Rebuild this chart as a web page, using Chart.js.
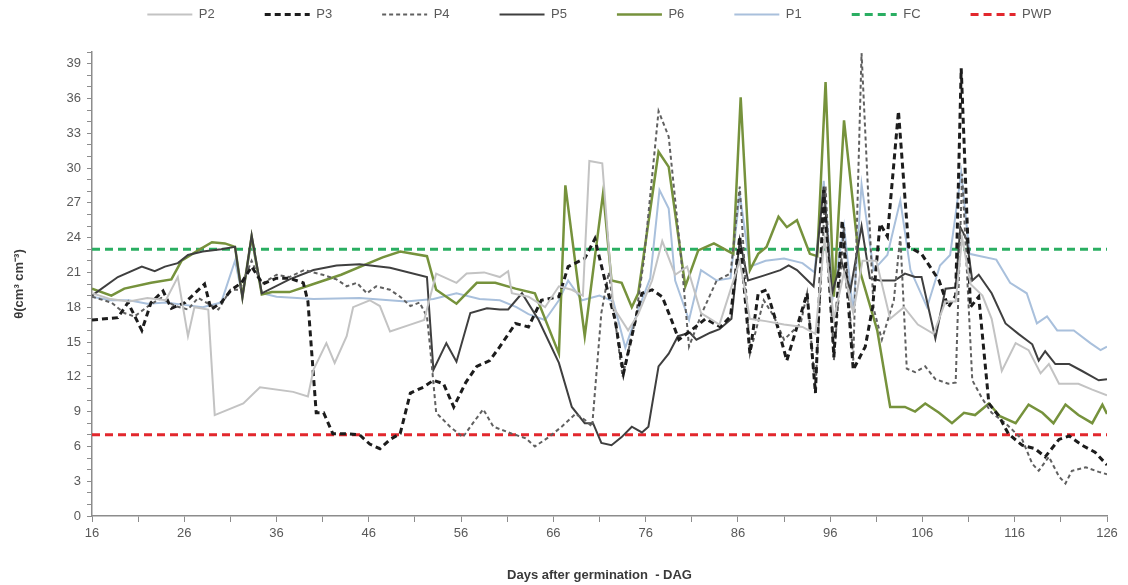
<!DOCTYPE html>
<html>
<head>
<meta charset="utf-8">
<script src="https://cdn.jsdelivr.net/npm/chart.js@4/dist/chart.umd.min.js"></script>
<style>
  html, body { margin: 0; padding: 0; background: #fff; }
  #wrap { width: 1128px; height: 585px; }
</style>
</head>
<body>
<div id="wrap"><canvas id="chart"></canvas></div>
<script>
// tick labels
var xLabels = [16, 26, 36, 46, 56, 66, 76, 86, 96, 106, 116, 126];
var yLabels = [0, 3, 6, 9, 12, 15, 18, 21, 24, 27, 30, 33, 36, 39];

// P2
var p2Days = [16, 18, 20, 22, 24, 25.3, 26.4, 27.1, 28.6, 29.3, 32.4, 34.2, 37.8, 39.4, 40, 41.4, 42.3, 43.6, 44.3, 46.1, 47.2, 48.3, 50.5, 52, 53.3, 55.5, 56.6, 58.5, 60.2, 61.1, 61.5, 63.3, 65.1, 66.6, 68, 69.2, 69.9, 71.3, 72.5, 74.1, 75.2, 76.7, 77.8, 79.2, 80.5, 82, 84, 86.2, 87.3, 89, 91, 93, 94.4, 95.4, 96.4, 97.5, 98.5, 99.5, 101, 102.5, 104, 105.5, 107.2, 108.5, 109.6, 110.3, 111.2, 112.5, 113.5, 114.6, 116.1, 117.5, 118.8, 119.7, 120.8, 122.9, 124.4, 126];
var p2Vals = [19.2, 18.7, 18.5, 18.8, 18.6, 20.6, 15.5, 18.0, 17.8, 8.7, 9.7, 11.1, 10.7, 10.3, 12.6, 14.9, 13.2, 15.5, 18.0, 18.6, 18.1, 15.9, 16.5, 16.9, 20.9, 20.1, 20.9, 21.0, 20.6, 21.1, 19.2, 18.9, 18.0, 19.8, 19.5, 19.0, 30.6, 30.4, 18.0, 16.0, 17.4, 20.3, 23.7, 20.8, 21.5, 17.5, 16.5, 22.0, 17.0, 16.8, 16.5, 16.3, 15.7, 24.0, 17.0, 21.0, 17.5, 22.0, 22.0, 17.0, 18.0, 16.5, 15.7, 18.5, 18.5, 24.0, 20.0, 19.0, 17.0, 12.5, 14.9, 14.3, 12.3, 13.1, 11.4, 11.4, 10.9, 10.4];

// P3
var p3Days = [16, 18.8, 19.9, 21.4, 22.4, 23.7, 24.6, 26.1, 28.2, 28.9, 30, 31.1, 32.2, 33.3, 34.5, 36, 37.4, 38.9, 39.4, 40.3, 41.1, 42.1, 43.6, 45, 46.1, 47.2, 48.3, 49.4, 50.5, 51.9, 53, 54.1, 55.2, 56.5, 57.7, 59.1, 60.2, 61.9, 63.3, 64.7, 66.6, 67.6, 69.4, 70.5, 71.6, 72.7, 73.6, 74.9, 75.6, 76.7, 77.8, 78.8, 79.6, 81.4, 82.5, 84.1, 85.2, 86.2, 87.3, 88.2, 89.1, 90.2, 91.3, 92.4, 93.5, 94.4, 95.3, 96.4, 97.3, 98.5, 99.8, 100.6, 101.4, 102.2, 103.4, 104.5, 105.9, 107.8, 108.8, 109.6, 110.2, 111.2, 112.1, 113.2, 114.3, 115.3, 116.8, 118.2, 119.3, 120.8, 121.9, 123.3, 124.7, 126];
var p3Vals = [16.9, 17.1, 18.4, 16.0, 18.4, 19.4, 17.9, 18.4, 20.0, 17.8, 18.4, 19.5, 20.1, 21.5, 20.0, 20.5, 20.5, 20.1, 18.5, 8.9, 8.9, 7.1, 7.1, 7.0, 6.2, 5.8, 6.6, 7.1, 10.6, 11.1, 11.7, 11.4, 9.4, 11.5, 12.9, 13.4, 14.6, 16.6, 16.3, 18.6, 18.9, 21.5, 22.2, 23.9, 20.3, 16.9, 12.3, 16.9, 19.2, 19.5, 18.9, 16.9, 15.2, 16.3, 17.0, 16.3, 17.2, 24.1, 14.0, 19.2, 19.5, 16.6, 13.4, 16.3, 19.2, 10.6, 28.1, 13.7, 25.5, 12.6, 14.6, 18.0, 25.2, 24.1, 34.9, 23.2, 22.6, 20.3, 18.0, 19.0, 38.6, 18.0, 18.9, 9.7, 8.6, 7.1, 6.1, 5.8, 5.1, 6.6, 6.9, 6.1, 5.5, 4.4];

// P4
var p4Days = [16, 18.1, 19.5, 20.6, 22.1, 23.5, 25, 26.4, 27.5, 29.7, 31, 32, 33.3, 34.4, 36, 37.4, 39, 41, 42.5, 43.6, 44.7, 45.8, 46.8, 48.3, 49.4, 50.5, 51.5, 52.3, 52.6, 53.3, 54.8, 56.2, 57, 58.4, 59.5, 61.5, 63, 64, 65.5, 66.9, 68.4, 69.4, 70.2, 71.2, 72, 73.5, 74.9, 75.8, 77.4, 78.5, 79.9, 80.7, 82.1, 83.7, 85.2, 86.2, 87.3, 88.8, 89.9, 91, 92.8, 93.5, 94.4, 95.5, 96.4, 97.5, 98.5, 99.4, 100.7, 101.6, 102.9, 103.6, 104.3, 105.2, 106.3, 107.4, 108.8, 109.6, 110.3, 111.4, 112.5, 113.5, 115, 116.8, 117.9, 118.6, 119.7, 120.8, 121.5, 122.2, 123.7, 125.1, 126];
var p4Vals = [18.9, 18.4, 17.5, 17.2, 18.1, 18.8, 18.1, 17.8, 18.8, 17.8, 19.5, 19.5, 22.0, 20.0, 20.8, 20.6, 21.2, 20.8, 20.4, 19.8, 20.1, 19.2, 19.8, 19.5, 18.9, 18.1, 18.4, 17.2, 14.9, 8.9, 7.7, 6.8, 7.7, 9.2, 7.7, 7.1, 6.7, 6.0, 6.8, 7.7, 8.8, 8.3, 7.7, 17.5, 21.0, 12.0, 17.0, 22.0, 34.9, 32.7, 21.8, 14.6, 17.5, 20.3, 20.9, 28.4, 14.0, 18.6, 17.2, 15.2, 16.6, 19.2, 10.9, 28.4, 13.4, 24.9, 13.4, 39.9, 17.9, 15.2, 18.6, 24.1, 12.7, 12.4, 12.9, 11.8, 11.4, 11.5, 29.5, 11.7, 10.1, 8.9, 8.0, 6.6, 4.5, 3.9, 5.1, 3.4, 2.8, 3.9, 4.2, 3.8, 3.6];

// P5
var p5Days = [16, 18.8, 21.4, 22.8, 23.9, 25.3, 26.4, 28, 30, 31.5, 32.3, 33.3, 34.4, 37.4, 40, 42.5, 45, 48.3, 52.3, 53, 54.4, 55.5, 57, 58.8, 60.2, 61.1, 62.6, 64.4, 66.6, 68, 69.4, 70.3, 71.2, 72.3, 73.4, 74.5, 75.6, 76.3, 77.4, 78.5, 79.5, 80.8, 81.5, 83, 84, 85.3, 86.2, 87.1, 88.7, 90.6, 91.5, 92.4, 94.2, 95.3, 96.2, 97.2, 98.2, 99.4, 100.3, 101.4, 103, 104.1, 105.2, 105.9, 107.4, 108.5, 109.6, 110.1, 110.8, 111.4, 112.1, 113.5, 115, 116.4, 117.9, 118.6, 119.3, 120.4, 121.9, 123.3, 125.1, 126];
var p5Vals = [19.0, 20.6, 21.5, 21.1, 21.5, 21.8, 22.5, 22.8, 23.0, 23.2, 18.8, 24.2, 19.2, 20.4, 21.2, 21.6, 21.7, 21.4, 20.6, 12.6, 14.9, 13.3, 17.5, 17.9, 17.8, 17.8, 19.2, 16.9, 13.2, 9.4, 8.0, 8.0, 6.3, 6.1, 6.8, 7.7, 7.2, 7.7, 12.9, 14.0, 15.5, 15.8, 15.2, 15.8, 16.1, 17.0, 23.8, 20.3, 20.7, 21.2, 21.6, 21.2, 19.8, 28.4, 19.2, 22.0, 19.5, 25.0, 20.5, 20.3, 20.3, 20.9, 20.6, 20.6, 15.3, 19.6, 19.7, 24.9, 23.8, 20.3, 20.8, 19.2, 16.6, 15.7, 14.8, 13.4, 14.2, 13.1, 13.1, 12.5, 11.7, 11.8];

// P6
var p6Days = [16, 18.1, 19.5, 22.4, 24.6, 25.7, 27.5, 29, 30.4, 31.5, 32.3, 33.3, 34.4, 35.5, 37.4, 40, 43, 46, 47.5, 49.4, 52.3, 53.3, 55.5, 57.7, 59.7, 61.9, 64, 66.6, 67.3, 69.4, 71.4, 72.3, 73.4, 74.5, 75.2, 77.4, 78.5, 80.3, 81.7, 83.4, 85.5, 86.3, 87.3, 88.2, 89.1, 90.4, 91.3, 92.4, 93.8, 94.6, 95.5, 96.4, 97.5, 99.3, 101.1, 102.5, 104.1, 105.2, 106.3, 107.8, 109.2, 110.5, 111.7, 113.2, 114.4, 116.1, 117.5, 119, 120.2, 121.5, 122.9, 124.4, 125.5, 126];
var p6Vals = [19.6, 19.0, 19.6, 20.1, 20.4, 22.0, 22.9, 23.6, 23.5, 23.2, 18.9, 24.1, 19.1, 19.3, 19.3, 20.0, 20.8, 21.8, 22.3, 22.8, 22.4, 19.5, 18.3, 20.1, 20.1, 19.6, 19.2, 14.0, 28.5, 15.5, 27.9, 20.3, 20.1, 18.0, 19.2, 31.4, 30.1, 19.8, 22.9, 23.5, 22.6, 36.1, 21.2, 22.6, 23.2, 25.8, 24.9, 25.5, 22.6, 22.4, 37.4, 18.9, 34.1, 20.9, 16.0, 9.4, 9.4, 9.0, 9.7, 8.9, 8.0, 8.9, 8.7, 9.7, 8.6, 8.0, 9.6, 8.9, 8.0, 9.6, 8.7, 8.0, 9.6, 8.8];

// P1
var p1Days = [16, 18, 20, 22, 24, 26, 28, 30, 31.5, 32.3, 33.3, 34.4, 36, 40, 45, 50, 53, 55.5, 58, 60.2, 62, 63.3, 65.1, 66.6, 67.6, 69.1, 71, 72.5, 73.8, 75.3, 76.5, 77.5, 78.5, 79.2, 80.7, 82, 83.7, 85.2, 86.2, 87.3, 89, 91, 93, 94.3, 95.3, 96.3, 97.5, 98.5, 99.4, 100.7, 102.2, 103.6, 104.7, 106.5, 107.9, 109, 110.2, 111.1, 112.3, 114, 115.5, 117.3, 118.4, 119.5, 120.6, 122.4, 124.2, 125.3, 126];
var p1Vals = [18.9, 18.6, 18.6, 18.3, 18.4, 18.2, 18.0, 18.4, 22.0, 19.0, 23.8, 19.2, 18.9, 18.7, 18.8, 18.5, 18.7, 19.2, 18.7, 18.6, 18.0, 17.4, 16.9, 18.6, 20.3, 18.6, 19.0, 18.5, 14.5, 18.0, 20.5, 28.1, 26.5, 20.3, 16.9, 21.2, 20.3, 20.5, 27.8, 21.5, 22.0, 22.2, 21.8, 21.0, 28.9, 19.0, 25.0, 17.5, 28.6, 21.2, 22.5, 27.2, 21.2, 18.0, 21.6, 22.5, 29.6, 22.6, 22.4, 22.1, 20.1, 19.2, 16.6, 17.2, 16.0, 16.0, 14.9, 14.3, 14.6];

// reference levels
var levelDays = [16, 126];
var fcVals = [23, 23];
var pwpVals = [7, 7];

function pts(days, vals) {
  return days.map(function (d, i) { return { x: d, y: vals[i] }; });
}

var series = [
  { label: 'P2', days: p2Days, vals: p2Vals, color: '#c3c3c3', width: 2, dash: [] },
  { label: 'P3', days: p3Days, vals: p3Vals, color: '#1c1c1c', width: 3, dash: [6, 4] },
  { label: 'P4', days: p4Days, vals: p4Vals, color: '#606060', width: 2, dash: [4, 3] },
  { label: 'P5', days: p5Days, vals: p5Vals, color: '#3f3f3f', width: 2, dash: [] },
  { label: 'P6', days: p6Days, vals: p6Vals, color: '#76923c', width: 2.5, dash: [] },
  { label: 'P1', days: p1Days, vals: p1Vals, color: '#a9c0dc', width: 2, dash: [] },
  { label: 'FC', days: levelDays, vals: fcVals, color: '#2aae62', width: 3, dash: [8, 5] },
  { label: 'PWP', days: levelDays, vals: pwpVals, color: '#e2272d', width: 3, dash: [8, 5] }
];

var datasets = series.map(function (s) {
  return {
    label: s.label,
    data: pts(s.days, s.vals),
    xAxisID: 'x',
    yAxisID: 'y',
    borderColor: s.color,
    backgroundColor: s.color,
    borderWidth: s.width,
    borderDash: s.dash,
    pointRadius: 0,
    tension: 0,
    fill: false
  };
});

var textColor = '#595959';
var axisColor = '#8c8c8c';
var font13 = { family: 'Liberation Sans, Arial, sans-serif', size: 13 };

new Chart(document.getElementById('chart'), {
  type: 'line',
  data: { datasets: datasets },
  options: {
    responsive: true,
    maintainAspectRatio: false,
    animation: false,
    devicePixelRatio: 1,
    layout: { padding: { top: -42, left: 0, right: 21, bottom: 0 } },
    plugins: {
      tooltip: { enabled: false },
      legend: {
        position: 'top',
        fullSize: false,
        labels: {
          usePointStyle: true,
          pointStyle: 'line',
          pointStyleWidth: 45,
          padding: 50,
          color: textColor,
          font: font13,
          generateLabels: function (chart) {
            var items = Chart.defaults.plugins.legend.labels.generateLabels(chart);
            items.forEach(function (it) {
              var ds = chart.data.datasets[it.datasetIndex];
              it.lineDash = ds.borderDash;
              it.lineWidth = ds.borderWidth;
              it.strokeStyle = ds.borderColor;
              it.pointStyle = 'line';
            });
            return items;
          }
        }
      }
    },
    scales: {
      x: {
        type: 'linear',
        min: 16,
        max: 126,
        afterBuildTicks: function (s) {
          var t = [];
          for (var d = 16; d <= 126; d += 5) t.push({ value: d });
          s.ticks = t;
        },
        afterFit: function (s) { s.height = 69; },
        grid: { drawOnChartArea: false, color: axisColor, tickLength: 6 },
        border: { color: axisColor, width: 1.5 },
        ticks: {
          autoSkip: false,
          maxRotation: 0,
          padding: 4,
          color: textColor,
          font: font13,
          callback: function (v) { return xLabels.indexOf(v) >= 0 ? String(v) : ''; }
        },
        title: {
          display: true,
          text: 'Days after germination  - DAG',
          color: '#3a3a3a',
          padding: { top: 0, bottom: 2 },
          font: { family: 'Liberation Sans, Arial, sans-serif', size: 13, weight: 'bold' }
        }
      },
      y: {
        type: 'linear',
        min: 0,
        max: 40,
        afterBuildTicks: function (s) {
          var t = [];
          for (var v = 0; v <= 40; v += 1) t.push({ value: v });
          s.ticks = t;
        },
        afterFit: function (s) { s.width = 92; },
        grid: { drawOnChartArea: false, color: axisColor, tickLength: 5 },
        border: { color: axisColor, width: 1.5 },
        ticks: {
          autoSkip: false,
          padding: 6,
          color: textColor,
          font: font13,
          callback: function (v) { return yLabels.indexOf(v) >= 0 ? String(v) : ''; }
        },
        title: {
          display: true,
          text: 'θ(cm³ cm⁻³)',
          color: '#3a3a3a',
          padding: { top: 12, bottom: 0 },
          font: { family: 'Liberation Sans, Arial, sans-serif', size: 13, weight: 'bold' }
        }
      },
      gap: {
        type: 'linear',
        position: 'top',
        display: true,
        grid: { display: false, drawTicks: false },
        ticks: { display: false },
        border: { display: false },
        afterFit: function (s) { s.height = 21; }
      }
    }
  }
});
</script>
</body>
</html>
